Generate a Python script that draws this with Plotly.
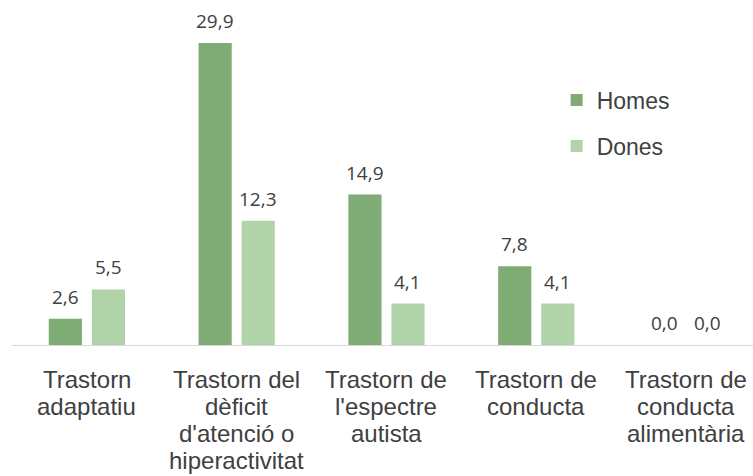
import plotly.graph_objects as go

categories = [
    "Trastorn adaptatiu",
    "Trastorn del dèficit d'atenció o hiperactivitat",
    "Trastorn de l'espectre autista",
    "Trastorn de conducta",
    "Trastorn de conducta alimentària",
]
category_lines = [
    ["Trastorn", "adaptatiu"],
    ["Trastorn del", "dèficit", "d'atenció o", "hiperactivitat"],
    ["Trastorn de", "l'espectre", "autista"],
    ["Trastorn de", "conducta"],
    ["Trastorn de", "conducta", "alimentària"],
]
homes = [2.6, 29.9, 14.9, 7.8, 0.0]
dones = [5.5, 12.3, 4.1, 4.1, 0.0]
series_names = ["Homes", "Dones"]
colors = ["#7fab75", "#b1d3a9"]

def fmt(v):
    return f"{v:.1f}".replace(".", ",")

fig = go.Figure()
for name, vals, col in zip(series_names, [homes, dones], colors):
    fig.add_trace(go.Bar(
        x=categories, y=vals, name=name, marker_color=col,
        marker_line_width=0, legendgroup=name,
    ))

annotations = []
for shift, vals in zip([-21.5, 21.5], [homes, dones]):
    for c, v in zip(categories, vals):
        annotations.append(dict(
            x=c, y=v, xref="x", yref="y", text=fmt(v), showarrow=False,
            xshift=shift, yshift=7, yanchor="bottom", xanchor="center",
            font=dict(family="Open Sans", size=19, color="#404040"),
        ))

# category labels, one line each for tight Office-like line spacing
for c, lines in zip(categories, category_lines):
    for i, line in enumerate(lines):
        annotations.append(dict(
            x=c, y=0, xref="x", yref="y", text=line, showarrow=False,
            yshift=-19 - 27 * i, yanchor="top", xanchor="center",
            font=dict(family="Liberation Sans, Arial", size=24, color="#404040"),
        ))

fig.update_layout(
    width=753, height=476,
    margin=dict(l=12, r=0, t=0, b=131),
    paper_bgcolor="white", plot_bgcolor="white",
    barmode="group", bargap=0.425, bargroupgap=0.23,
    annotations=annotations,
    legend=dict(
        x=0.735, y=0.772, xanchor="left", yanchor="top",
        font=dict(family="Liberation Sans, Arial", size=23, color="#404040"),
        traceorder="grouped", tracegroupgap=13, bgcolor="rgba(0,0,0,0)",
    ),
    xaxis=dict(
        range=[-0.5, 4.447], showgrid=False, showline=True,
        linecolor="#d9d9d9", linewidth=1, ticks="", showticklabels=False,
    ),
    yaxis=dict(
        range=[0, 34.16], visible=False, showgrid=False, zeroline=False,
    ),
)

fig.write_html("out.html", config={"displayModeBar": False},
               post_script="document.body.style.margin='0';")
